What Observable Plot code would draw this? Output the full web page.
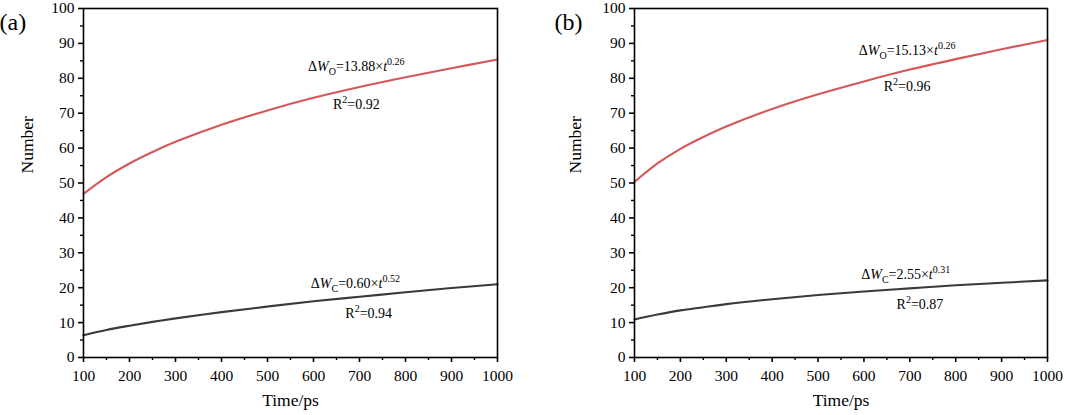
<!DOCTYPE html>
<html><head><meta charset="utf-8">
<script src="https://cdn.jsdelivr.net/npm/d3@7"></script>
<script src="https://cdn.jsdelivr.net/npm/@observablehq/plot@0.6"></script>
<style>
body{margin:0;background:#fff;}
#wrap{display:flex;width:1080px;height:415px;overflow:hidden;}
</style></head><body><div id="wrap"></div>
<script>
// ---- data ----
const time = [100, 150, 200, 250, 300, 400, 500, 600, 700, 800, 900, 1000];
const aOxygen = [46.9, 51.7, 55.6, 58.9, 61.8, 66.7, 70.8, 74.4, 77.5, 80.3, 82.9, 85.4];
const aCarbon = [6.4, 7.9, 9.1, 10.2, 11.2, 13.0, 14.6, 16.1, 17.4, 18.7, 19.9, 21.0];
const bOxygen = [50.3, 55.6, 59.8, 63.2, 66.2, 71.2, 75.4, 79.1, 82.5, 85.5, 88.3, 91.0];
const bCarbon = [10.9, 12.3, 13.5, 14.4, 15.3, 16.7, 17.9, 18.9, 19.8, 20.7, 21.4, 22.1];

const xTicks = [100, 200, 300, 400, 500, 600, 700, 800, 900, 1000];
const xMinor = [150, 250, 350, 450, 550, 650, 750, 850, 950];
const yTicks = [0, 10, 20, 30, 40, 50, 60, 70, 80, 90, 100];
const yMinor = [5, 15, 25, 35, 45, 55, 65, 75, 85, 95];

const aLabels = ["Δ*W*_{O}=13.88×*t*^{0.26}", "R^{2}=0.92", "Δ*W*_{C}=0.60×*t*^{0.52}", "R^{2}=0.94"];
const aLabelX = [693, 693, 691, 720];
const aLabelY = [83.4, 72.6, 21.3, 12.7];
const bLabels = ["Δ*W*_{O}=15.13×*t*^{0.26}", "R^{2}=0.96", "Δ*W*_{C}=2.55×*t*^{0.31}", "R^{2}=0.87"];
const bLabelX = [694, 694, 691, 722];
const bLabelY = [87.9, 77.6, 23.9, 15.3];

const RED = "#d4585a";
const DARK = "#3a3a3a";
const FONT = "Liberation Serif";

function richText(svg) {
  svg.querySelectorAll("text").forEach(el => {
    const s = el.textContent;
    if (!/[\*_\^]/.test(s) || el.querySelector("tspan")) return;
    const parts = s.split(/(\*[^*]+\*|_\{[^}]+\}|\^\{[^}]+\})/).filter(p => p.length);
    el.textContent = "";
    let shift = 0;
    const ns = "http://www.w3.org/2000/svg";
    for (const p of parts) {
      const ts = document.createElementNS(ns, "tspan");
      let target = 0;
      if (p.startsWith("*")) { ts.textContent = p.slice(1, -1); ts.setAttribute("font-style", "italic"); }
      else if (p.startsWith("_{")) { ts.textContent = p.slice(2, -1); ts.setAttribute("font-size", "10"); target = 4; }
      else if (p.startsWith("^{")) { ts.textContent = p.slice(2, -1); ts.setAttribute("font-size", "10"); target = -6; }
      else ts.textContent = p;
      const dy = target - shift;
      if (dy !== 0) ts.setAttribute("dy", dy);
      shift = target;
      el.appendChild(ts);
    }
  });
}

function panel(cfg) {
  const dO = time.map((t, i) => ({t, v: cfg.O[i]}));
  const dC = time.map((t, i) => ({t, v: cfg.C[i]}));
  const ann = cfg.labels.map((l, i) => ({label: l, x: cfg.lx[i], y: cfg.ly[i]}));
  const svg = Plot.plot({
    width: 540, height: 415,
    marginLeft: cfg.ml, marginRight: cfg.mr, marginTop: 8, marginBottom: 58,
    style: {background: "#fff", color: "#000", overflow: "visible"},
    x: {domain: [100, 1000]},
    y: {domain: [0, 100]},
    marks: [
      Plot.line(dO, {x: "t", y: "v", stroke: RED, strokeWidth: 2.1, curve: "catmull-rom"}),
      Plot.line(dC, {x: "t", y: "v", stroke: DARK, strokeWidth: 2.1, curve: "catmull-rom"}),
      Plot.frame({stroke: "#000", strokeWidth: 1.6}),
      Plot.axisX({ticks: xTicks, tickSize: 5, tickPadding: 7, strokeWidth: 1.6, fontSize: 15.5, fontFamily: FONT, tickFormat: d => String(d), label: null}),
      Plot.axisX({ticks: xMinor, tickSize: 3, strokeWidth: 1.4, tickFormat: () => "", label: null}),
      Plot.axisY({ticks: yTicks, tickSize: 5, tickPadding: 4, strokeWidth: 1.6, fontSize: 15.5, fontFamily: FONT, tickFormat: d => String(d), label: null}),
      Plot.axisY({ticks: yMinor, tickSize: 3, strokeWidth: 1.4, tickFormat: () => "", label: null}),
      Plot.text(ann, {x: "x", y: "y", text: "label", fontSize: 14, fontFamily: FONT, textAnchor: "middle", fill: "#000"}),
      Plot.text(["Time/ps"], {frameAnchor: "bottom", dy: 48, fontSize: 17.5, fontFamily: FONT, fill: "#000"}),
      Plot.text(["Number"], {frameAnchor: "left", rotate: -90, dx: cfg.numDx, dy: -9.5, fontSize: 17.5, fontFamily: FONT, fill: "#000"}),
      Plot.text([cfg.letter], {frameAnchor: "top-left", textAnchor: "start", dx: cfg.letterDx, dy: 4, fontSize: 24, fontFamily: FONT, fill: "#000"})
    ]
  });
  richText(svg);
  return svg;
}

const wrap = document.getElementById("wrap");
wrap.appendChild(panel({O: aOxygen, C: aCarbon, labels: aLabels, lx: aLabelX, ly: aLabelY,
  ml: 83, mr: 43, numDx: -56, letter: "(a)", letterDx: -84}));
wrap.appendChild(panel({O: bOxygen, C: bCarbon, labels: bLabels, lx: bLabelX, ly: bLabelY,
  ml: 94, mr: 33, numDx: -59, letter: "(b)", letterDx: -80}));
</script></body></html>
